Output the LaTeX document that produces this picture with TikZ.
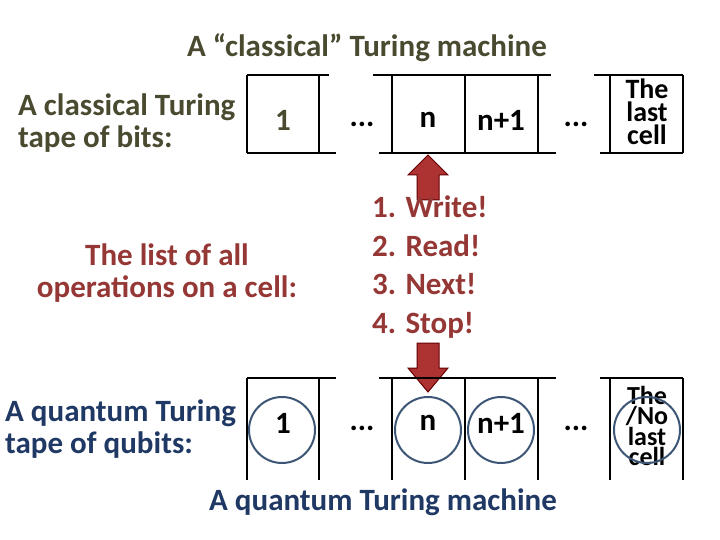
\documentclass[tikz,border=0pt]{standalone}
\usepackage{fontspec}
\setmainfont{Carlito}
\begin{document}
\begin{tikzpicture}[x=1pt,y=-1pt,
  txt/.style={font=\bfseries\fontsize{31}{32}\selectfont,inner sep=0pt},
  tape/.style={line width=1.5pt,black},
  qb/.style={draw=qcol,line width=2pt,circle,minimum size=66pt,inner sep=0pt},
  arr/.style={fill=red!60!black!80,draw=red!40!black,line width=1pt}]
\useasboundingbox (0,0) rectangle (720,540);
\definecolor{olive}{HTML}{4A4A30}
\definecolor{dred}{HTML}{953735}
\definecolor{dblue}{HTML}{1F3864}
\definecolor{qcol}{HTML}{3E5675}
\node[txt,text=olive] (t1) at (367,48) {A “classical” Turing machine};
\node[txt,text=olive,align=left,anchor=west] (l1) at (18,123) {A classical Turing\\tape of bits:};
% top tape
\draw[tape] (247,75) -- (329,75) (373,75) -- (551,75) (594,75) -- (683,75);
\draw[tape] (247,153) -- (336,153) (379,153) -- (556,153) (600,153) -- (683,153);
\foreach \x in {247,319,392,465,538,610,683} \draw[tape] (\x,75) -- (\x,153);
\node[txt,text=olive] (c1) at (283,120) {1};
\node[txt] (d1) at (362,124) {...};
\node[txt] (cn) at (428,120) {n};
\node[txt] (cn1) at (501,120) {n+1};
\node[txt] (d2) at (576,124) {...};
\node[txt,align=center,font=\bfseries\fontsize{28}{23}\selectfont] (cl) at (647,112) {The\\last\\cell};
% up arrow
\draw[arr] (428,155) -- (448,175) -- (439,175) -- (439,200) -- (417,200) -- (417,175) -- (408,175) -- cycle;
\node[txt,text=dred,align=left,anchor=west,font=\bfseries\fontsize{31}{38.5}\selectfont] (ops) at (372,267) {1. Write!\\2. Read!\\3. Next!\\4. Stop!};
\node[txt,text=dred,align=center] (lo) at (167,273) {The list of all\\operations on a cell:};
% down arrow
\draw[arr] (417,343) -- (439,343) -- (439,368) -- (448,368) -- (428,392) -- (408,368) -- (417,368) -- cycle;
% bottom tape
\draw[tape] (247,378) -- (336,378) (379,378) -- (556,378) (600,378) -- (683,378);
\foreach \x in {247,319,392,465,538,610,683} \draw[tape] (\x,378) -- (\x,480);
\node[txt,text=dblue,align=left,anchor=west] (l2) at (5,429) {A quantum Turing\\tape of qubits:};
\node[txt] (q1) at (283,423) {1};
\node[txt] (d3) at (362,428) {...};
\node[txt] (qn) at (428,423) {n};
\node[txt] (qn1) at (501,423) {n+1};
\node[txt] (d4) at (576,428) {...};
\node[txt,align=center,font=\bfseries\fontsize{26}{20.5}\selectfont] (ql) at (647,426) {The\\/No\\last\\cell};
\node[qb] (o1) at (282,430) {};
\node[qb] (on) at (428,430) {};
\node[qb] (on1) at (501,430) {};
\node[qb] (ol) at (647,430) {};
\node[txt,text=dblue] (t2) at (383,502) {A quantum Turing machine};
\end{tikzpicture}
\end{document}
